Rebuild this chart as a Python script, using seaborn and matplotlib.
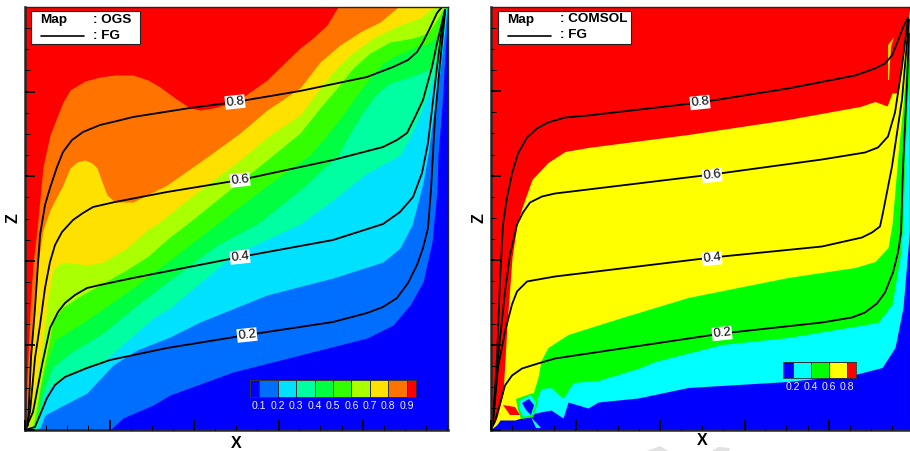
import numpy as np
import matplotlib
matplotlib.use('Agg')
import matplotlib.pyplot as plt
from matplotlib.colors import ListedColormap
from matplotlib.patches import Rectangle, Polygon
import seaborn as sns

# ---- left panel (OGS): height of each map level along x ----
ogs_colors = ['#ff0000', '#ff7300', '#ffe100', '#aaff00', '#33ff00', '#00ff40', '#00ffa0', '#00e1ff', '#006eff', '#0000ff']

ogs_x_09 = [0, 1, 2, 5, 8, 12, 18, 25, 32, 38, 45, 60, 75, 90, 108, 123, 135, 150, 165, 175, 188, 203, 218, 242, 275, 288, 302, 313, 422]
ogs_z_09 = [0, 13, 50, 117, 167, 200, 263, 295, 313, 328, 340, 349, 353, 355, 355, 350, 343, 332, 322, 320, 322, 326, 333, 350, 382, 392, 405, 423, 423]
ogs_x_08 = [0, 2, 5, 8, 13, 18, 25, 31, 37, 45, 52, 60, 67, 72, 77, 82, 90, 108, 142, 182, 215, 242, 275, 295, 315, 335, 355, 373, 422]
ogs_z_08 = [0, 7, 50, 117, 167, 200, 220, 232, 243, 262, 268, 270, 267, 262, 248, 235, 228, 228, 245, 273, 297, 320, 342, 368, 385, 398, 408, 423, 423]
ogs_x_07 = [0, 4, 10, 17, 23, 28, 37, 48, 62, 78, 102, 122, 132, 175, 215, 245, 275, 292, 308, 325, 348, 375, 395, 407, 422]
ogs_z_07 = [0, 3, 40, 83, 133, 160, 168, 167, 165, 168, 182, 200, 206, 240, 270, 295, 315, 338, 358, 375, 392, 405, 412, 422, 423]
ogs_x_06 = [0, 8, 17, 23, 28, 37, 52, 78, 98, 122, 145, 162, 208, 242, 275, 295, 312, 328, 345, 365, 388, 403, 413, 419, 422]
ogs_z_06 = [0, 3, 53, 83, 110, 122, 132, 147, 158, 173, 193, 206, 243, 270, 297, 322, 342, 362, 377, 388, 392, 397, 412, 422, 423]
ogs_x_05 = [0, 11, 15, 22, 30, 62, 98, 112, 145, 192, 240, 285, 302, 318, 332, 345, 358, 372, 388, 405, 412, 420, 422]
ogs_z_05 = [0, 5, 40, 67, 90, 110, 135, 145, 170, 206, 243, 275, 295, 315, 335, 352, 367, 375, 382, 387, 395, 420, 423]
ogs_x_04 = [0, 10, 20, 28, 45, 78, 112, 145, 192, 232, 275, 313, 328, 338, 352, 365, 385, 407, 413, 421, 422]
ogs_z_04 = [0, 3, 43, 63, 77, 97, 125, 150, 185, 206, 240, 275, 302, 318, 337, 347, 353, 362, 382, 422, 423]
ogs_x_03 = [0, 13, 18, 25, 38, 78, 95, 128, 145, 208, 275, 308, 342, 375, 385, 395, 403, 412, 418, 421, 422]
ogs_z_03 = [0, 2, 33, 43, 53, 68, 83, 112, 122, 175, 206, 230, 257, 275, 293, 315, 335, 362, 395, 422, 423]
ogs_x_02 = [0, 15, 20, 35, 62, 88, 112, 145, 175, 242, 308, 358, 375, 387, 398, 403, 408, 415, 420, 422]
ogs_z_02 = [0, 2, 15, 23, 37, 65, 80, 93, 108, 135, 152, 168, 182, 205, 247, 275, 312, 358, 402, 422]
ogs_x_01 = [0, 85, 98, 128, 145, 208, 275, 342, 368, 385, 398, 407, 412, 413, 417, 421, 422.5]
ogs_z_01 = [0, 0, 12, 25, 35, 58, 75, 92, 105, 125, 148, 188, 240, 275, 325, 392, 423]

# ---- right panel (COMSOL) ----
com_colors = ['#ff0000', '#ffff00', '#00ff00', '#00ffff', '#0000ff']

com_x_08 = [0, 6, 12, 14, 16, 21, 26, 31, 41, 57, 74, 97, 197, 297, 369, 384, 396, 401, 407, 412, 417, 419]
com_z_08 = [0, 12, 36, 70, 105, 172, 205, 222, 250, 267, 278, 282, 295, 310, 323, 328, 323.5, 336.5, 336.5, 379.5, 411.5, 423]
com_x_06 = [0, 36, 42, 47, 50, 57, 77, 131, 197, 297, 364, 384, 397, 401, 407, 412, 417, 419]
com_z_06 = [0, 13, 36, 52, 69, 82, 95, 112, 132, 152, 162, 168, 182, 205, 274.5, 324.5, 394.5, 423]
com_x_04 = [0, 36, 39, 44, 50, 60, 72, 82, 107, 147, 164, 231, 297, 387, 401, 409, 412, 414, 418, 423]
com_z_04 = [0, 12, 13, 26, 41, 42, 31, 47, 49, 61, 68, 85, 92, 107, 125, 172, 205, 274.5, 357.5, 423]
com_x_02 = [0, 6, 9, 24, 30, 39, 44, 60, 72, 77, 97, 107, 147, 197, 297, 364, 391, 404, 412, 419, 420]
com_z_02 = [0, 5, 9.5, 9.5, 11.5, 12.5, 16.5, 19.5, 11.5, 27.5, 21.5, 27.5, 31.5, 42, 48, 55, 62, 82, 122, 205, 423]

# numerical artefacts of the COMSOL map
ring_green_x = [25, 42, 47, 42, 30, 27]
ring_green_z = [30.5, 36.5, 26.5, 12.5, 10.5, 19.5]
ring_cyan_x = [28, 40, 45, 41, 32, 29]
ring_cyan_z = [28.5, 34.5, 26.5, 14.5, 12.5, 19.5]
blob_blue_x = [31, 38, 43, 40, 35]
blob_blue_z = [26.5, 30.5, 24.5, 14.5, 19.5]
blob_red_x = [12, 24, 29, 19]
blob_red_z = [24.5, 22.5, 14.5, 14.5]
wedge_cyan_x = [40, 50, 45]
wedge_cyan_z = [12.5, 1.5, 1.5]
streak_x = [397, 403, 400, 398, 397]
streak_z = [384.5, 392.5, 382.5, 349.5, 349.5]

# ---- FG lines ----
fg_labels = ['0.8', '0.6', '0.4', '0.2']

ogs_fg_x_08 = [0, 3, 6, 10, 15, 20, 25, 32, 38, 47, 58, 75, 92, 108, 165, 210, 275, 342, 368, 383, 392, 398, 405, 412, 417]
ogs_fg_z_08 = [0, 5, 72, 122, 195, 225, 242, 263, 278, 290, 298, 305, 309, 313, 322, 328, 339, 353, 363, 370, 378, 388, 402, 417, 423]
ogs_fg_x_06 = [0, 5, 10, 15, 20, 25, 30, 37, 48, 58, 68, 90, 142, 215, 308, 358, 372, 382, 390, 398, 407, 412, 417, 420]
ogs_fg_z_06 = [0, 18, 72, 105, 142, 168, 185, 198, 210, 217, 223, 228, 238, 250, 270, 283, 290, 297, 313, 330, 363, 387, 407, 420]
ogs_fg_x_04 = [0, 8, 17, 25, 33, 40, 50, 62, 75, 108, 215, 308, 358, 375, 388, 397, 403, 412, 418, 420]
ogs_fg_z_04 = [0, 18, 65, 102, 118, 127, 135, 142, 145, 152, 173, 190, 206, 218, 233, 257, 287, 363, 410, 420]
ogs_fg_x_02 = [0, 10, 22, 30, 40, 62, 85, 142, 222, 308, 342, 358, 372, 383, 392, 398, 403, 406, 410, 417, 420]
ogs_fg_z_02 = [0, 3, 32, 45, 53, 62, 70, 82, 95, 108, 117, 123, 132, 147, 165, 182, 202, 240, 313, 387, 417]

com_fg_x_08 = [0, 2, 6, 9, 12, 16, 21, 27, 36, 46, 57, 74, 97, 209, 297, 364, 384, 394, 401, 407, 412, 417]
com_fg_z_08 = [0, 8, 72, 150, 205, 232, 256, 276, 292, 301, 307, 312, 314, 327, 341, 354, 361, 366, 374, 389, 402, 412]
com_fg_x_06 = [0, 2, 7, 14, 19, 26, 32, 39, 51, 64, 221, 331, 374, 387, 397, 404, 411, 414, 417]
com_fg_z_06 = [0, 8, 72, 138, 175, 205, 217, 227, 233, 236, 255, 270, 277, 282, 293, 317, 363, 387, 410]
com_fg_x_04 = [0, 2, 7, 14, 21, 26, 36, 47, 64, 221, 331, 371, 381, 389, 392, 401, 411, 416, 418]
com_fg_z_04 = [0, 8, 62, 98, 125, 138, 148, 150, 153, 172, 183, 192, 197, 203, 217, 263, 330, 387, 410]
com_fg_x_02 = [0, 4, 14, 21, 31, 47, 64, 231, 331, 361, 374, 386, 394, 402, 407, 410, 412, 416, 418]
com_fg_z_02 = [0, 8, 44, 54, 61, 66, 71, 96, 107, 112, 117, 126, 137, 157, 177, 197, 262, 346, 396]

# where the line labels sit
ogs_label_x = [210, 215, 215, 222]
ogs_label_z = [328, 250, 173, 95]
com_label_x = [209, 221, 221, 231]
com_label_z = [327, 254, 171, 96]

# colour legend ticks
ogs_bar_edges = [0.05, 0.1, 0.2, 0.3, 0.4, 0.5, 0.6, 0.7, 0.8, 0.9, 0.95]
ogs_bar_ticks = [0.1, 0.2, 0.3, 0.4, 0.5, 0.6, 0.7, 0.8, 0.9]
com_bar_edges = [0.095, 0.2, 0.4, 0.6, 0.8, 0.895]
com_bar_ticks = [0.2, 0.4, 0.6, 0.8]

sns.set_theme(style='ticks')
plt.rcParams['font.family'] = ['Liberation Sans', 'DejaVu Sans']

W, H = 910, 451
fig = plt.figure(figsize=(W / 100, H / 100), dpi=100, facecolor='white')


def px_axes(x0, y0, x1, y1):
    return fig.add_axes([x0 / W, 1 - y1 / H, (x1 - x0) / W, (y1 - y0) / H])


def setup_axes(ax, xmax, zmax):
    ax.set_xlim(0, xmax)
    ax.set_ylim(0, zmax)
    ax.set_xticks(np.arange(0, xmax, 84.5))
    ax.set_yticks(np.arange(0, zmax, 84.6))
    ax.set_xticks(np.arange(0, xmax, 21.1), minor=True)
    ax.set_yticks(np.arange(0, zmax, 21.15), minor=True)
    ax.set_axisbelow(False)
    ax.tick_params(which='major', direction='in', length=7.5, width=1.3, color='black',
                   labelbottom=False, labelleft=False)
    ax.tick_params(which='minor', direction='in', length=3.5, width=0.7, color='black')
    for side in ['left', 'bottom']:
        ax.spines[side].set_linewidth(1.8)
    for side in ['top', 'right']:
        ax.spines[side].set_linewidth(1.0)
    ax.set_xlabel('X', fontsize=11.5, fontweight='bold', color='black', va='center')
    ax.set_ylabel('Z', fontsize=11.5, fontweight='bold', color='black', va='center')


def draw_map(ax, curves, colors, xmax, zmax):
    ax.fill_between([0, xmax], [zmax, zmax], 0, color=colors[0], lw=0)
    for (cx, cz), col in zip(curves, colors[1:]):
        ax.fill_between(cx, cz, 0, color=col, lw=0)


def draw_fg(ax, lines, label_x, label_z):
    for (lx, lz), lab, tx, tz in zip(lines, fg_labels, label_x, label_z):
        sns.lineplot(x=lx, y=lz, color='black', linewidth=1.3, sort=False,
                     estimator=None, legend=False, ax=ax)
        ax.text(tx, tz, lab, fontsize=9.5, color='black', rotation=6, ha='center', va='center',
                bbox=dict(facecolor='white', edgecolor='none', pad=0.6), zorder=5)


def draw_key(ax, box, name):
    ax.add_patch(Rectangle((box[0], box[1]), box[2], box[3], facecolor='white',
                           edgecolor='#222222', lw=0.8, zorder=6))
    ax.text(box[0] + 9, 410, 'Map', fontsize=9.7, fontweight='bold', color='black',
            va='center', zorder=7)
    ax.text(box[0] + 62, 410, ': ' + name, fontsize=9.7, fontweight='bold', color='black',
            va='center', zorder=7)
    ax.plot([box[0] + 10, box[0] + 53], [394, 394], color='black', lw=1.2, zorder=7)
    ax.text(box[0] + 62, 394, ': FG', fontsize=9.7, fontweight='bold', color='black',
            va='center', zorder=7)


def draw_bar(rect, edges, ticks, colors):
    cax = px_axes(*rect)
    vals = np.arange(len(colors)).reshape(1, -1)
    cax.pcolormesh(edges, [0, 1], vals, cmap=ListedColormap(colors),
                   edgecolors='#333333', linewidth=0.5)
    cax.set_yticks([])
    cax.set_xticks(ticks)
    cax.set_xticklabels([f'{t:.1f}' for t in ticks], color='#f0f0ff', fontsize=7.6)
    cax.tick_params(axis='x', length=0, pad=3)
    for s in cax.spines.values():
        s.set_linewidth(0.6)
        s.set_color('#333333')


# left panel
ax1 = px_axes(25, 7, 447.5, 430)
ogs_curves = [(ogs_x_09, ogs_z_09), (ogs_x_08, ogs_z_08), (ogs_x_07, ogs_z_07), (ogs_x_06, ogs_z_06),
              (ogs_x_05, ogs_z_05), (ogs_x_04, ogs_z_04), (ogs_x_03, ogs_z_03), (ogs_x_02, ogs_z_02),
              (ogs_x_01, ogs_z_01)]
draw_map(ax1, ogs_curves, ogs_colors, 422.5, 423)
draw_fg(ax1, [(ogs_fg_x_08, ogs_fg_z_08), (ogs_fg_x_06, ogs_fg_z_06),
              (ogs_fg_x_04, ogs_fg_z_04), (ogs_fg_x_02, ogs_fg_z_02)], ogs_label_x, ogs_label_z)
setup_axes(ax1, 422.5, 423)
ax1.xaxis.set_label_coords(0.5, -0.031)
ax1.yaxis.set_label_coords(-0.028, 0.5)
draw_key(ax1, (6, 386, 109, 33), 'OGS')

# right panel, runs off the edge of the picture
ax2 = px_axes(491, 7, 910, 429.5)
com_curves = [(com_x_08, com_z_08), (com_x_06, com_z_06), (com_x_04, com_z_04), (com_x_02, com_z_02)]
draw_map(ax2, com_curves, com_colors, 419, 422.5)
ax2.fill(ring_green_x, ring_green_z, color='#00ff00', lw=0, zorder=1.1)
ax2.fill(ring_cyan_x, ring_cyan_z, color='#00ffff', lw=0, zorder=1.2)
ax2.fill(blob_blue_x, blob_blue_z, color='#0000ff', lw=0, zorder=1.3)
ax2.fill(blob_red_x, blob_red_z, color='#ff0000', lw=0, zorder=1.1)
ax2.fill(wedge_cyan_x, wedge_cyan_z, color='#00ffff', lw=0, zorder=1.2)
ax2.fill(streak_x, streak_z, color='#ffd000', lw=0, zorder=1.1)
draw_fg(ax2, [(com_fg_x_08, com_fg_z_08), (com_fg_x_06, com_fg_z_06),
              (com_fg_x_04, com_fg_z_04), (com_fg_x_02, com_fg_z_02)], com_label_x, com_label_z)
setup_axes(ax2, 419, 422.5)
ax2.xaxis.set_label_coords(0.5036, -0.027)
ax2.yaxis.set_label_coords(-0.0286, 0.5)
draw_key(ax2, (7, 385.5, 133, 33), 'COMSOL')

# colour keys
draw_bar((250, 380, 416, 397), ogs_bar_edges, ogs_bar_ticks, ogs_colors[::-1])
draw_bar((783, 362, 856, 378), com_bar_edges, com_bar_ticks, com_colors[::-1])

# scraps of a grey watermark along the bottom edge
fig.add_artist(Polygon([(647 / W, 0), (660 / W, 5 / H), (668 / W, 0)], closed=True,
                       transform=fig.transFigure, facecolor='#e2e2e2', edgecolor='none'))
fig.add_artist(Polygon([(712 / W, 0), (718 / W, 4 / H), (730 / W, 3 / H), (729 / W, 0)], closed=True,
                       transform=fig.transFigure, facecolor='#e2e2e2', edgecolor='none'))

fig.savefig('out.png', dpi=100)
